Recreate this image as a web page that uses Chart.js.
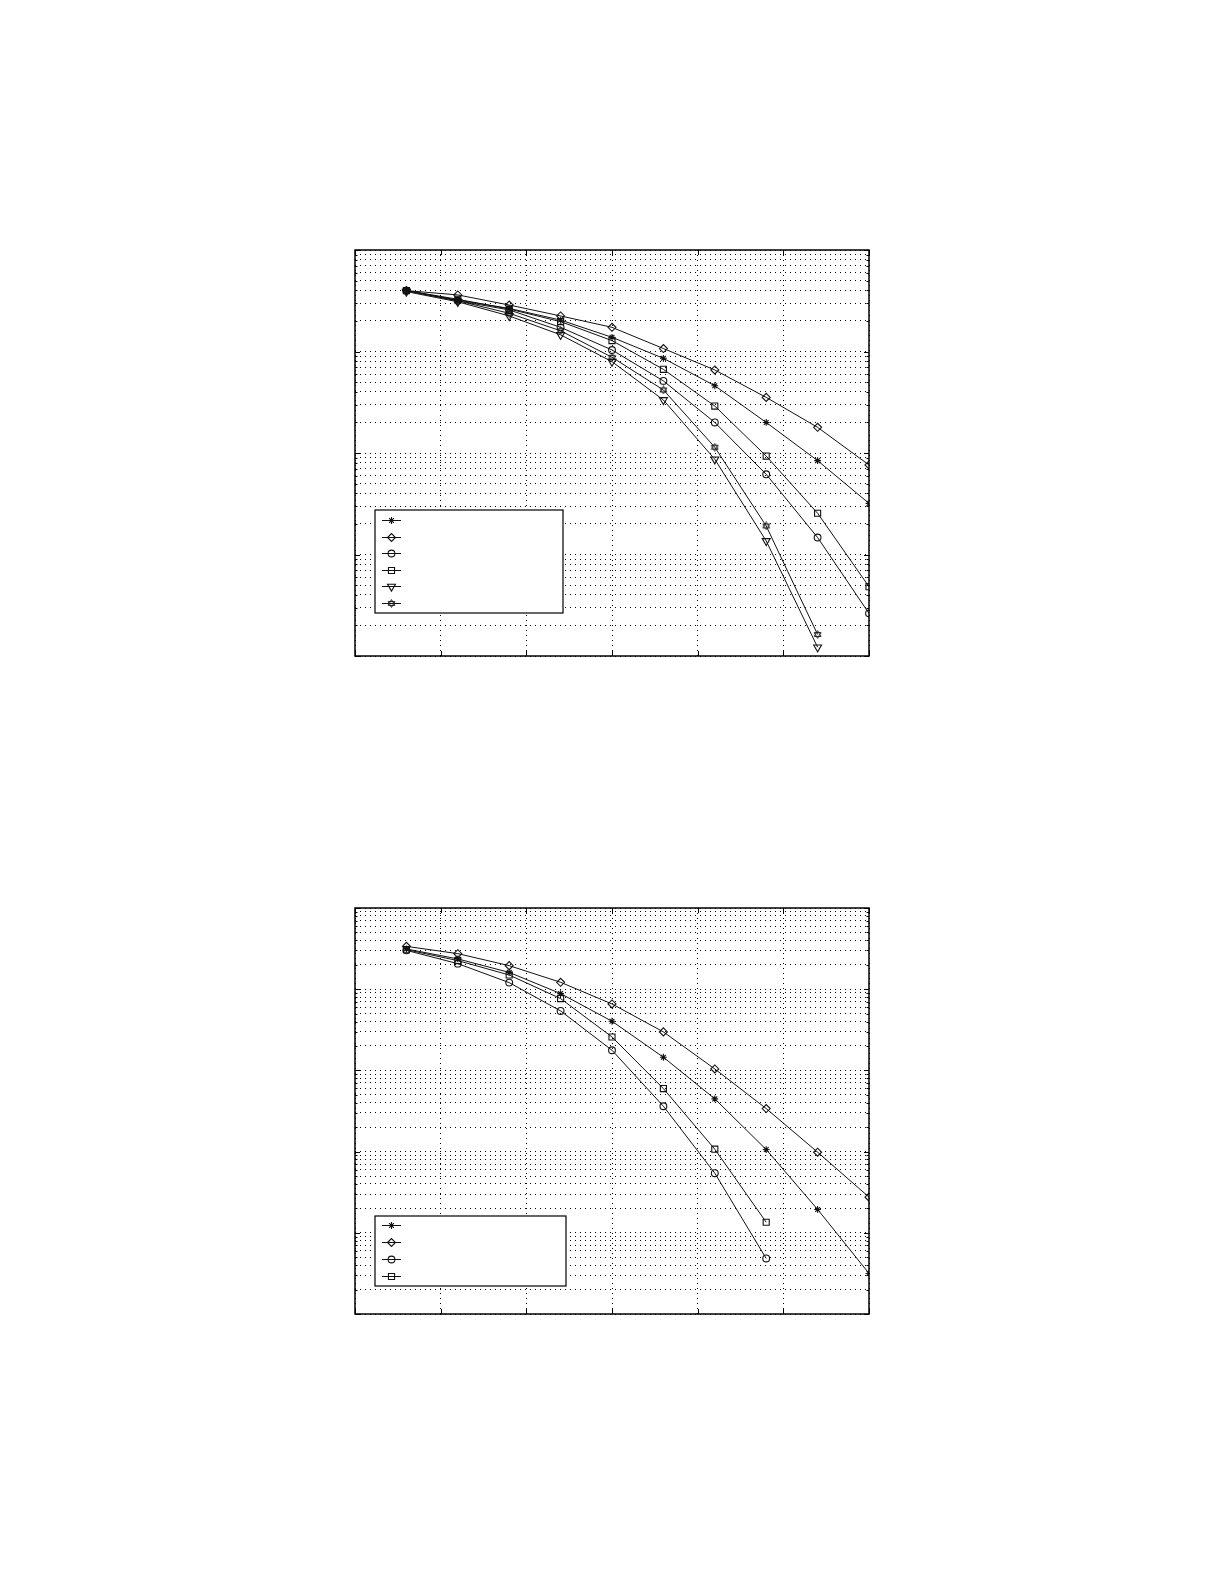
<!DOCTYPE html>
<html>
<head>
<meta charset="utf-8">
<script src="https://cdn.jsdelivr.net/npm/chart.js@4/dist/chart.umd.min.js"></script>
<style>
  body { margin: 0; background: #fff; width: 1225px; height: 1585px; position: relative; }
  canvas { position: absolute; }
</style>
</head>
<body>
<canvas id="chart1" width="534" height="426" style="left:345px;top:240px;"></canvas>
<canvas id="chart2" width="534" height="426" style="left:345px;top:898px;"></canvas>
<script>
// x positions shared by both plots
var xValues = [3, 6, 9, 12, 15, 18, 21, 24, 27, 30];
var xTicks = [0, 5, 10, 15, 20, 25, 30];

// top plot (y from 1e-4 to 1)
var s1Star     = [0.398, 0.321, 0.266, 0.204, 0.138, 0.0857, 0.0460, 0.0200, 0.00841, 0.00319];
var s1Diamond  = [0.398, 0.361, 0.287, 0.224, 0.173, 0.107, 0.0658, 0.0353, 0.0179, 0.00762];
var s1Circle   = [0.398, 0.316, 0.257, 0.173, 0.1035, 0.0513, 0.0200, 0.00617, 0.00147, 0.000263];
var s1Square   = [0.398, 0.327, 0.262, 0.197, 0.128, 0.0667, 0.0290, 0.00933, 0.00255, 0.000482];
var s1Triangle = [0.389, 0.309, 0.224, 0.146, 0.0794, 0.0333, 0.00867, 0.00136, 0.000122];
var s1Hexagram = [0.398, 0.316, 0.238, 0.160, 0.0877, 0.0418, 0.0114, 0.00191, 0.000163];

// bottom plot (y from 1e-5 to 1)
var s2Star    = [0.313, 0.236, 0.161, 0.0883, 0.0403, 0.01452, 0.00446, 0.00106, 0.000194, 0.0000316];
var s2Diamond = [0.337, 0.274, 0.195, 0.1216, 0.0658, 0.0298, 0.01042, 0.00339, 0.000984, 0.000275];
var s2Circle  = [0.301, 0.2065, 0.1205, 0.054, 0.0177, 0.00362, 0.000542, 0.0000483];
var s2Square  = [0.307, 0.225, 0.1496, 0.0766, 0.0258, 0.00597, 0.00107, 0.000135];

var ink = '#000';

// matlab style hexagram marker, chart.js has none
function makeHexagram(size) {
    var c = document.createElement('canvas');
    c.width = size;
    c.height = size;
    var g = c.getContext('2d');
    var r = size / 2 - 0.6, cx = size / 2, cy = size / 2;
    g.strokeStyle = '#222';
    g.lineWidth = 1;
    [-Math.PI / 2, Math.PI / 2].forEach(function (a0) {
        g.beginPath();
        for (var k = 0; k < 3; k++) {
            var a = a0 + k * 2 * Math.PI / 3;
            if (k == 0) g.moveTo(cx + r * Math.cos(a), cy + r * Math.sin(a));
            else g.lineTo(cx + r * Math.cos(a), cy + r * Math.sin(a));
        }
        g.closePath();
        g.stroke();
    });
    return c;
}
var hexagram = makeHexagram(9);

var markers = {
    star:     { pointStyle: 'star', pointRadius: 3.4, pointRotation: 0 },
    diamond:  { pointStyle: 'rectRot', pointRadius: 4, pointRotation: 0 },
    circle:   { pointStyle: 'circle', pointRadius: 3.4, pointRotation: 0 },
    square:   { pointStyle: 'rect', pointRadius: 4.3, pointRotation: 0 },
    triangle: { pointStyle: 'triangle', pointRadius: 4.6, pointRotation: 180 },
    hexagram: { pointStyle: hexagram, pointRadius: 4.5, pointRotation: 0 }
};

function series(values, mark) {
    var m = markers[mark];
    return {
        data: values.map(function (v, i) { return { x: xValues[i], y: v }; }),
        borderColor: '#111',
        borderWidth: 1,
        backgroundColor: 'rgba(0,0,0,0)',
        pointBorderColor: '#111',
        pointBackgroundColor: 'rgba(0,0,0,0)',
        pointBorderWidth: 1.1,
        pointStyle: m.pointStyle,
        pointRadius: m.pointRadius,
        pointRotation: m.pointRotation,
        tension: 0,
        clip: 0
    };
}

function logTicks(minExp) {
    var t = [];
    for (var e = minExp; e < 0; e++) {
        for (var m = 1; m < 10; m++) t.push({ value: m * Math.pow(10, e) });
    }
    t.push({ value: 1 });
    return t;
}

// box round the axes + inward tick marks, like matlab
var boxPlugin = {
    id: 'box',
    afterDatasetsDraw: function (chart) {
        var a = chart.chartArea, ctx = chart.ctx;
        var xs = chart.scales.x, ys = chart.scales.y;
        ctx.save();
        ctx.strokeStyle = ink;
        ctx.lineWidth = 1;
        ctx.beginPath();
        xs.ticks.forEach(function (t) {
            var px = Math.round(xs.getPixelForValue(t.value)) + 0.5;
            ctx.moveTo(px, a.bottom); ctx.lineTo(px, a.bottom - 5);
            ctx.moveTo(px, a.top); ctx.lineTo(px, a.top + 5);
        });
        ys.ticks.forEach(function (t) {
            var py = Math.round(ys.getPixelForValue(t.value)) + 0.5;
            var major = Math.abs(Math.log10(t.value) - Math.round(Math.log10(t.value))) < 1e-6;
            var len = major ? 5 : 2.5;
            ctx.moveTo(a.left, py); ctx.lineTo(a.left + len, py);
            ctx.moveTo(a.right, py); ctx.lineTo(a.right - len, py);
        });
        ctx.stroke();
        ctx.lineWidth = 1.5;
        ctx.strokeRect(a.left, a.top, a.right - a.left, a.bottom - a.top);
        ctx.restore();
    }
};

// legend box inside the plot, lower left (labels are blank in the original)
var innerLegend = {
    id: 'innerLegend',
    afterDraw: function (chart, args, opts) {
        var a = chart.chartArea, ctx = chart.ctx;
        var left = a.left + opts.left, right = a.left + opts.right;
        var top = a.bottom - opts.top, bottom = a.bottom - opts.bottom;
        ctx.save();
        ctx.fillStyle = '#fff';
        ctx.fillRect(left, top, right - left, bottom - top);
        ctx.strokeStyle = ink;
        ctx.lineWidth = 1.2;
        ctx.strokeRect(left, top, right - left, bottom - top);
        chart.data.datasets.forEach(function (ds, i) {
            var y = Math.round(top + opts.first + i * opts.step) + 0.5;
            ctx.strokeStyle = '#111';
            ctx.lineWidth = 1;
            ctx.beginPath();
            ctx.moveTo(left + 7, y);
            ctx.lineTo(left + 26, y);
            ctx.stroke();
            ctx.lineWidth = ds.pointBorderWidth;
            ctx.fillStyle = 'rgba(0,0,0,0)';
            Chart.helpers.drawPoint(ctx, {
                pointStyle: ds.pointStyle,
                radius: ds.pointRadius,
                rotation: ds.pointRotation,
                borderWidth: ds.pointBorderWidth
            }, left + 16.5, y);
        });
        ctx.restore();
    }
};

function makeChart(id, datasets, minExp, legendBox) {
    var ctx = document.getElementById(id).getContext('2d');
    return new Chart(ctx, {
        type: 'line',
        data: { datasets: datasets },
        options: {
            responsive: false,
            animation: false,
            layout: { padding: 10 },
            plugins: {
                legend: { display: false },
                tooltip: { enabled: false },
                innerLegend: legendBox
            },
            scales: {
                x: {
                    type: 'linear',
                    min: xTicks[0],
                    max: xTicks[xTicks.length - 1],
                    afterBuildTicks: function (scale) {
                        scale.ticks = xTicks.map(function (v) { return { value: v }; });
                    },
                    ticks: { display: false },
                    grid: { color: ink, lineWidth: 1, drawTicks: false },
                    border: { display: false, dash: [1, 4] }
                },
                y: {
                    type: 'logarithmic',
                    min: Math.pow(10, minExp),
                    max: 1,
                    afterBuildTicks: function (scale) {
                        scale.ticks = logTicks(minExp);
                    },
                    ticks: { display: false },
                    grid: { color: ink, lineWidth: 1, drawTicks: false },
                    border: { display: false, dash: [1, 4] }
                }
            }
        },
        plugins: [boxPlugin, innerLegend]
    });
}

makeChart('chart1', [
    series(s1Star, 'star'),
    series(s1Diamond, 'diamond'),
    series(s1Circle, 'circle'),
    series(s1Square, 'square'),
    series(s1Triangle, 'triangle'),
    series(s1Hexagram, 'hexagram')
], -4, { left: 20, right: 208, top: 146, bottom: 43, first: 10, step: 16.5 });

makeChart('chart2', [
    series(s2Star, 'star'),
    series(s2Diamond, 'diamond'),
    series(s2Circle, 'circle'),
    series(s2Square, 'square')
], -5, { left: 20, right: 211, top: 98, bottom: 28, first: 9, step: 17 });
</script>
</body>
</html>
